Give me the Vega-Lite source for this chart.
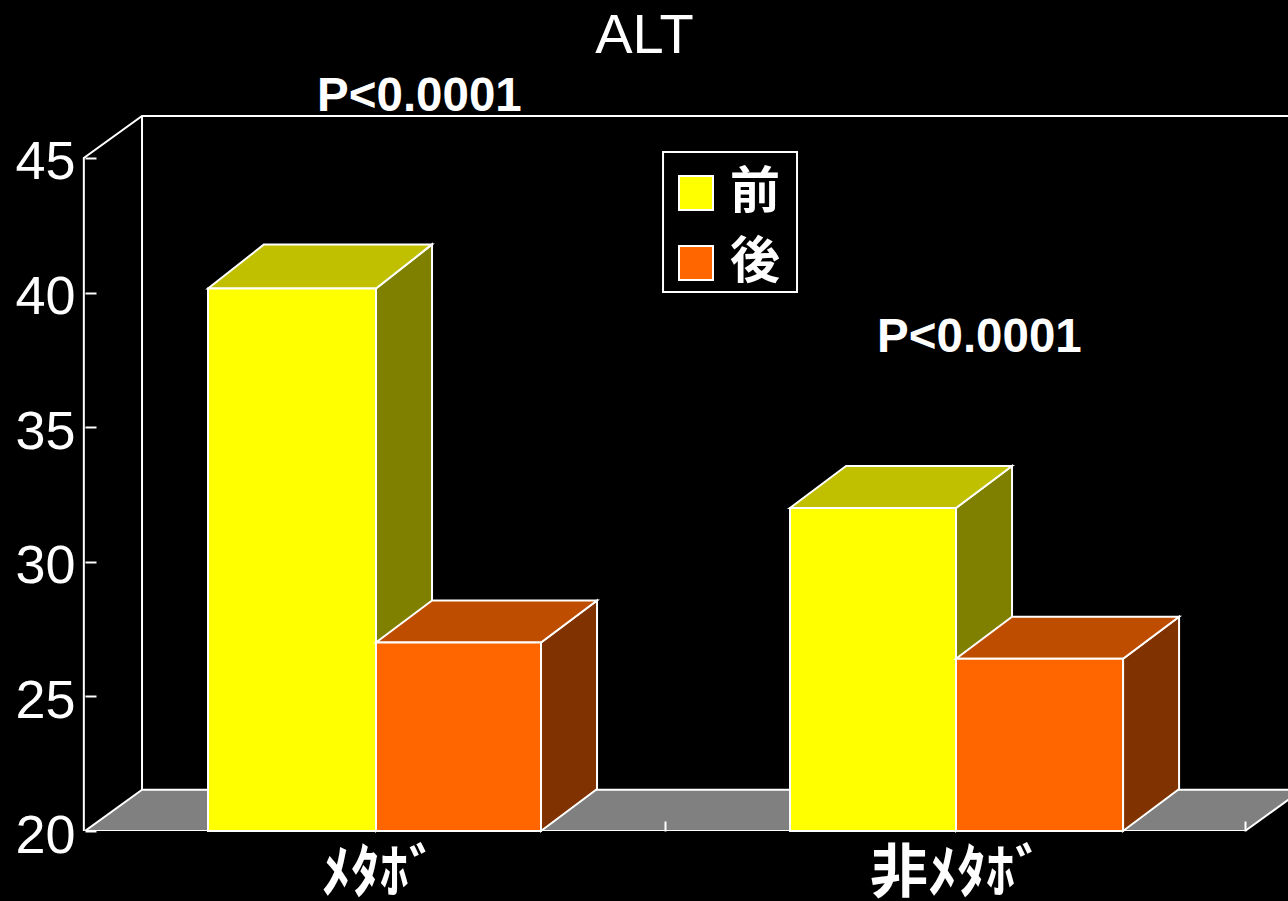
{"$schema":"https://vega.github.io/schema/vega-lite/v6.json","width":1203,"height":715,"autosize":"none","padding":{"left":85,"top":116,"right":0,"bottom":70},"background":"black",
"title":{"text":"ALT","font":"Liberation Sans","fontSize":56,"fontWeight":"normal","color":"white","anchor":"middle","dx":-42,"baseline":"alphabetic","offset":-36},
"config":{"view":{"stroke":null}},
"datasets":{
"bars":[{"series":"前","x":0.2121,"x2":0.5017,"y":40.15,"y2":20},{"series":"後","x":0.5017,"x2":0.7862,"y":27.0,"y2":20},{"series":"前","x":1.2155,"x2":1.5017,"y":32.0,"y2":20},{"series":"後","x":1.5017,"x2":1.7897,"y":26.4,"y2":20}],
"floor":[{"y":20,"x":0,"x2":2},{"y":21.53,"x":0.0983,"x2":2.0983}],
"frame":[{"id":"a","i":0,"x":-0.002,"y":20},{"id":"a","i":1,"x":-0.002,"y":45},{"id":"a","i":2,"x":0.0983,"y":46.56},{"id":"a","i":3,"x":2.0741,"y":46.56},{"id":"b","i":0,"x":0.0983,"y":46.56},{"id":"b","i":1,"x":0.0983,"y":21.53}],
"box":[{"x":0.9966,"x2":1.2276,"y":45.22,"y2":40.02}],
"sides":[
{"id":"y1","x":0.5017,"y":20,"y2":40.15},{"id":"y1","x":0.5983,"y":21.56,"y2":41.79},
{"id":"y2","x":1.5017,"y":20,"y2":32.0},{"id":"y2","x":1.5983,"y":21.56,"y2":33.56}],
"sidesB":[
{"id":"o1","x":0.7862,"y":20,"y2":27.0},{"id":"o1","x":0.8828,"y":21.56,"y2":28.56},
{"id":"o2","x":1.7897,"y":20,"y2":26.4},{"id":"o2","x":1.8863,"y":21.56,"y2":27.96}],
"topsA":[
{"id":"y1","y":40.15,"x":0.2121,"x2":0.5017},{"id":"y1","y":41.79,"x":0.3087,"x2":0.5983},
{"id":"y2","y":32.0,"x":1.2155,"x2":1.5017},{"id":"y2","y":33.56,"x":1.3121,"x2":1.5983}],
"topsB":[
{"id":"o1","y":27.0,"x":0.5017,"x2":0.7862},{"id":"o1","y":28.56,"x":0.5983,"x2":0.8828},
{"id":"o2","y":26.4,"x":1.5017,"x2":1.7897},{"id":"o2","y":27.96,"x":1.5983,"x2":1.8863}],
"p":[{"x":0.5766,"y":46.76,"label":"P<0.0001"},{"x":1.5421,"y":37.78,"label":"P<0.0001"}],
"cat":[{"x":0.5083,"y":17.72,"label":"ﾒﾀﾎﾞ"},{"x":1.5036,"y":17.72,"label":"非ﾒﾀﾎﾞ"}]
},
"encoding":{
"x":{"field":"x","type":"quantitative","scale":{"domain":[0,2.0741],"nice":false,"zero":false},"axis":{"title":null,"values":[1,2],"labels":false,"domain":false,"grid":false,"tickSize":-10,"tickColor":"white","tickWidth":2,"zindex":1}},
"y":{"field":"y","type":"quantitative","scale":{"domain":[20,46.56],"nice":false,"zero":false},"axis":{"title":null,"values":[20,25,30,35,40,45],"domain":false,"grid":false,"tickSize":-11,"tickColor":"white","tickWidth":2,"labelColor":"white","labelFont":"Liberation Sans","labelFontSize":54,"labelPadding":21,"labelBaseline":"middle","labelOffset":5}}
},
"layer":[
{"data":{"name":"floor"},"mark":{"type":"area","orient":"horizontal","color":"#808080","stroke":"white","strokeWidth":2,"clip":true},"encoding":{"x2":{"field":"x2"}}},
{"data":{"name":"frame"},"mark":{"type":"line","color":"white","strokeWidth":2},"encoding":{"detail":{"field":"id"},"order":{"field":"i"}}},
{"data":{"name":"box"},"mark":{"type":"rect","fill":"black","stroke":"white","strokeWidth":2},"encoding":{"x2":{"field":"x2"},"y2":{"field":"y2"}}},
{"data":{"name":"sides"},"mark":{"type":"area","orient":"vertical","color":"#808000","stroke":"white","strokeWidth":2},"encoding":{"y2":{"field":"y2"},"detail":{"field":"id"}}},
{"data":{"name":"topsA"},"mark":{"type":"area","orient":"horizontal","color":"#C0C000","stroke":"white","strokeWidth":2},"encoding":{"x2":{"field":"x2"},"detail":{"field":"id"}}},
{"data":{"name":"bars"},"transform":[{"filter":"datum.series==='前'"}],"mark":{"type":"rect","stroke":"white","strokeWidth":2},"encoding":{"x2":{"field":"x2"},"y2":{"field":"y2"},"color":{"field":"series","type":"nominal","scale":{"domain":["前","後"],"range":["#FFFF00","#FF6600"]},"legend":{"orient":"none","legendX":586,"legendY":52,"title":null,"padding":0,"symbolType":"square","symbolSize":1156,"symbolStrokeColor":"white","symbolStrokeWidth":2,"labelColor":"white","labelFont":"Noto Sans CJK JP","labelFontSize":50,"labelFontWeight":"bold","labelOffset":9,"rowPadding":20}}}},
{"data":{"name":"sidesB"},"mark":{"type":"area","orient":"vertical","color":"#803300","stroke":"white","strokeWidth":2},"encoding":{"y2":{"field":"y2"},"detail":{"field":"id"}}},
{"data":{"name":"topsB"},"mark":{"type":"area","orient":"horizontal","color":"#BF4D00","stroke":"white","strokeWidth":2},"encoding":{"x2":{"field":"x2"},"detail":{"field":"id"}}},
{"data":{"name":"bars"},"transform":[{"filter":"datum.series==='後'"}],"mark":{"type":"rect","stroke":"white","strokeWidth":2},"encoding":{"x2":{"field":"x2"},"y2":{"field":"y2"},"color":{"field":"series","type":"nominal"}}},
{"data":{"name":"p"},"mark":{"type":"text","color":"white","font":"Liberation Sans","fontWeight":"bold","fontSize":47.5,"align":"center","baseline":"alphabetic"},"encoding":{"text":{"field":"label"}}},
{"data":{"name":"cat"},"mark":{"type":"text","color":"white","font":"Noto Sans CJK JP","fontWeight":"bold","fontSize":58,"align":"center","baseline":"alphabetic"},"encoding":{"text":{"field":"label"}}}
]}
